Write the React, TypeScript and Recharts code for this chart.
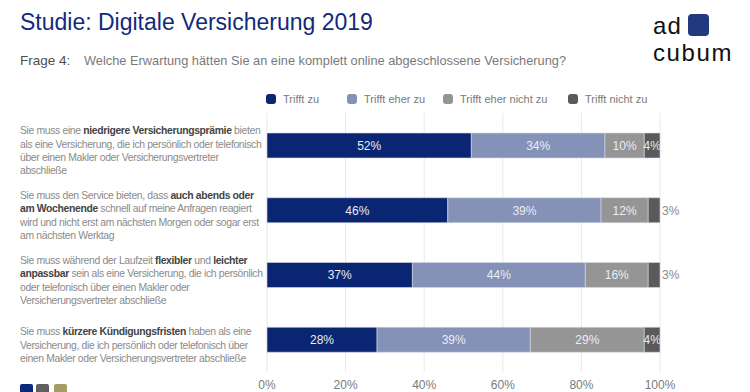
import React from 'react';
import { BarChart, Bar, XAxis, YAxis, CartesianGrid, LabelList } from 'recharts';

// question rows, each label line split into [text, bold]
const categories = ['q1', 'q2', 'q3', 'q4'];
const categoryLines: [string, boolean][][][] = [
  [
    [['Sie muss eine ', false], ['niedrigere Versicherungsprämie', true], [' bieten', false]],
    [['als eine Versicherung, die ich persönlich oder telefonisch', false]],
    [['über einen Makler oder Versicherungsvertreter', false]],
    [['abschließe', false]],
  ],
  [
    [['Sie muss den Service bieten, dass ', false], ['auch abends oder', true]],
    [['am Wochenende', true], [' schnell auf meine Anfragen reagiert', false]],
    [['wird und nicht erst am nächsten Morgen oder sogar erst', false]],
    [['am nächsten Werktag', false]],
  ],
  [
    [['Sie muss während der Laufzeit ', false], ['flexibler', true], [' und ', false], ['leichter', true]],
    [['anpassbar', true], [' sein als eine Versicherung, die ich persönlich', false]],
    [['oder telefonisch über einen Makler oder', false]],
    [['Versicherungsvertreter abschließe', false]],
  ],
  [
    [['Sie muss ', false], ['kürzere Kündigungsfristen', true], [' haben als eine', false]],
    [['Versicherung, die ich persönlich oder telefonisch über', false]],
    [['einen Makler oder Versicherungsvertreter abschließe', false]],
  ],
];

const trifftZu = [52, 46, 37, 28];
const trifftEherZu = [34, 39, 44, 39];
const trifftEherNichtZu = [10, 12, 16, 29];
const trifftNichtZu = [4, 3, 3, 4];

const xTicks = [0, 20, 40, 60, 80, 100];

const series = [
  { key: 'zu', name: 'Trifft zu', color: '#0a2672' },
  { key: 'eherZu', name: 'Trifft eher zu', color: '#8592b8' },
  { key: 'eherNicht', name: 'Trifft eher nicht zu', color: '#959595' },
  { key: 'nicht', name: 'Trifft nicht zu', color: '#5a5a5a' },
];

const data = categories.map((c, i) => ({
  name: c,
  zu: trifftZu[i],
  eherZu: trifftEherZu[i],
  eherNicht: trifftEherNichtZu[i],
  nicht: trifftNichtZu[i],
}));

const FONT = '"Liberation Sans", Arial, Helvetica, sans-serif';

const CategoryTick = (props: any) => {
  const { y, payload } = props;
  const idx = categories.indexOf(payload.value);
  const lines = categoryLines[idx] || [];
  const lh = 13.3;
  const startY = y - ((lines.length - 1) * lh) / 2 + 9;
  return (
    <text x={20} y={startY} fontSize={10.4} letterSpacing={-0.35} fontFamily={FONT} fill="#8a8a8a" textAnchor="start">
      {lines.map((line, li) => (
        <tspan key={li} x={20} y={startY + li * lh}>
          {line.map(([t, b], si) => (
            <tspan key={si} fontWeight={b ? 'bold' : 'normal'} fill={b ? '#444' : '#8a8a8a'}>
              {t}
            </tspan>
          ))}
        </tspan>
      ))}
    </text>
  );
};

const SegmentLabel = (props: any) => {
  const { x, y, width, height, value } = props;
  const outside = value <= 3;
  return (
    <text
      x={outside ? x + width + 2 : x + width / 2}
      y={y + height / 2}
      dy="0.36em"
      textAnchor={outside ? 'start' : 'middle'}
      fontSize={12}
      fontFamily={FONT}
      fill={outside ? '#8a8a8a' : '#e9ecf4'}
    >
      {value}%
    </text>
  );
};

const App = () => {
  const legendX = [266, 347, 443, 568];
  return (
    <div style={{ position: 'absolute', left: 0, top: 0, width: 750, height: 392, background: '#fff', fontFamily: FONT, overflow: 'hidden' }}>
      <div style={{ position: 'absolute', left: 20, top: 9, fontSize: 23, lineHeight: '26px', color: '#122a7c', whiteSpace: 'nowrap' }}>
        Studie: Digitale Versicherung 2019
      </div>
      <div style={{ position: 'absolute', left: 20, top: 53, fontSize: 13.5, color: '#4f4f4f', whiteSpace: 'nowrap' }}>
        Frage 4:
      </div>
      <div style={{ position: 'absolute', left: 84, top: 53, fontSize: 12.8, color: '#7a7a7a', whiteSpace: 'nowrap' }}>
        Welche Erwartung hätten Sie an eine komplett online abgeschlossene Versicherung?
      </div>

      {/* logo */}
      <div style={{ position: 'absolute', left: 653, top: 14, fontSize: 24, lineHeight: '24px', letterSpacing: 1.2, color: '#111' }}>ad</div>
      <div style={{ position: 'absolute', left: 653, top: 41, fontSize: 24, lineHeight: '24px', letterSpacing: 1.6, color: '#111' }}>cubum</div>
      <div style={{ position: 'absolute', left: 688, top: 14, width: 21, height: 22, borderRadius: 4, background: '#23397f' }} />

      {/* legend */}
      {series.map((s, i) => (
        <div key={s.key} style={{ position: 'absolute', left: legendX[i], top: 93, display: 'flex', alignItems: 'center', whiteSpace: 'nowrap' }}>
          <span style={{ display: 'inline-block', width: 10, height: 10, borderRadius: 3, background: s.color, marginRight: 7 }} />
          <span style={{ fontSize: 11, color: '#7a7a7a' }}>{s.name}</span>
        </div>
      ))}

      <div style={{ position: 'absolute', left: 0, top: 0 }}>
        <BarChart width={750} height={392} data={data} layout="vertical" margin={{ top: 113, right: 90, left: 20, bottom: 0 }}>
          <CartesianGrid horizontal={false} stroke="#e8e8e8" />
          <XAxis
            type="number"
            domain={[0, 100]}
            ticks={xTicks}
            tickFormatter={(v: number) => `${v}%`}
            axisLine={false}
            tickLine={false}
            height={20}
            tick={{ fontSize: 12, fill: '#7a7a7a', fontFamily: FONT }}
          />
          <YAxis type="category" dataKey="name" width={247} axisLine={false} tickLine={false} tick={<CategoryTick />} />
          {series.map((s) => (
            <Bar key={s.key} dataKey={s.key} name={s.name} stackId="a" fill={s.color} stroke="#d6dae6" strokeWidth={0.6} barSize={25} isAnimationActive={false}>
              <LabelList dataKey={s.key} content={<SegmentLabel />} />
            </Bar>
          ))}
        </BarChart>
      </div>

      {/* decorative squares */}
      <div style={{ position: 'absolute', left: 20, top: 384, width: 13, height: 13, borderRadius: 2, background: '#0c2a78' }} />
      <div style={{ position: 'absolute', left: 36, top: 384, width: 13, height: 13, borderRadius: 2, background: '#5f5f5f' }} />
      <div style={{ position: 'absolute', left: 54, top: 384, width: 13, height: 13, borderRadius: 2, background: '#a59d68' }} />
    </div>
  );
};

export default App;
